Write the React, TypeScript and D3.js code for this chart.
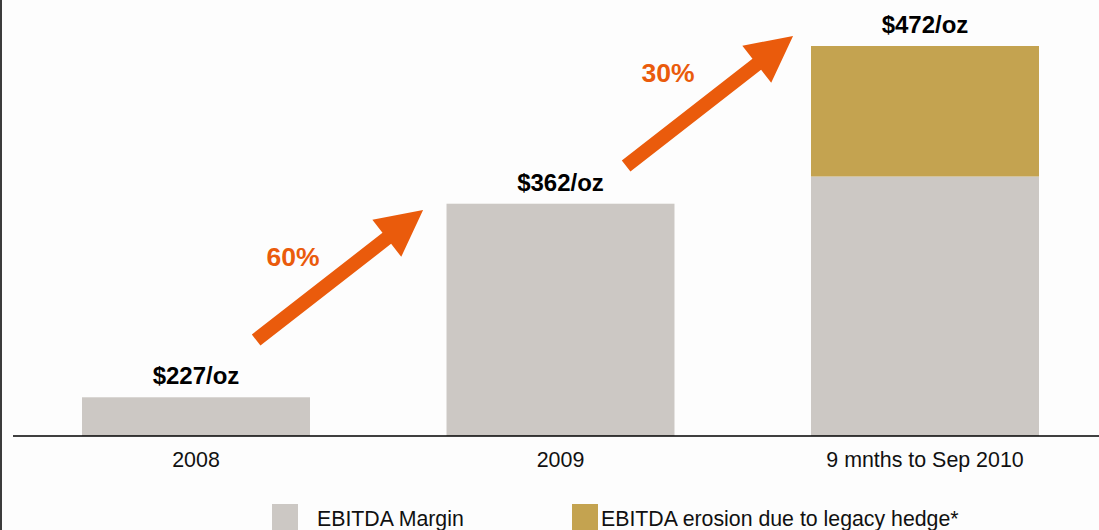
import React from 'react';
import * as d3 from 'd3';

const categories = ['2008', '2009', '9 mnths to Sep 2010'];
const marginValues = [227, 362, 381];
const erosionValues = [0, 0, 91];
const totalLabels = ['$227/oz', '$362/oz', '$472/oz'];

// growth arrows, positioned as [category index offset, $/oz]
const growthArrows = [
  { from: [0.165, 266.9], to: [0.623, 357.6], label: '60%', at: [0.266, 325.5] },
  { from: [1.18, 388.3], to: [1.638, 479], label: '30%', at: [1.295, 453.2] },
];

const legendItems = [
  { name: 'EBITDA Margin', color: '#ccc8c4' },
  { name: 'EBITDA erosion due to legacy hedge*', color: '#c4a350' },
];

const WIDTH = 1099;
const HEIGHT = 530;
const GREY = '#ccc8c4';
const GOLD = '#c4a350';
const ORANGE = '#ea5b0c';
const FONT = 'Arial, "Liberation Sans", Helvetica, sans-serif';

const App: React.FC = () => {
  const x = d3.scaleBand<string>()
    .domain(categories)
    .range([13, 1108])
    .paddingInner(0.3745)
    .paddingOuter(0.1893);

  const y = d3.scaleLinear().domain([200, 472]).range([436, 46]);

  const bw = x.bandwidth();
  const xAt = (i: number) => (x(categories[0]) as number) + bw / 2 + i * x.step();

  const arrowPath = (from: number[], to: number[]) => {
    const x0 = xAt(from[0]), y0 = y(from[1]);
    const x1 = xAt(to[0]), y1 = y(to[1]);
    const len = Math.hypot(x1 - x0, y1 - y0);
    const dx = (x1 - x0) / len, dy = (y1 - y0) / len;
    const nx = -dy, ny = dx;
    const shaft = 7, head = 23.5, headLen = 46;
    const bx = x1 - dx * headLen, by = y1 - dy * headLen;
    const pts: [number, number][] = [
      [x0 + nx * shaft, y0 + ny * shaft],
      [bx + nx * shaft, by + ny * shaft],
      [bx + nx * head, by + ny * head],
      [x1, y1],
      [bx - nx * head, by - ny * head],
      [bx - nx * shaft, by - ny * shaft],
      [x0 - nx * shaft, y0 - ny * shaft],
    ];
    return d3.line()(pts) + 'Z';
  };

  return (
    <svg width={WIDTH} height={HEIGHT} style={{ position: 'absolute', left: 0, top: 0, display: 'block' }}
      fontFamily={FONT}>
      <rect x={0} y={0} width={WIDTH} height={HEIGHT} fill="#fdfdfd" />
      <line x1={1} y1={0} x2={1} y2={HEIGHT} stroke="#3c3c3c" strokeWidth={2} />

      {categories.map((c, i) => (
        <g key={c}>
          <rect x={x(c)} y={y(marginValues[i])} width={bw} height={y(200) - y(marginValues[i])} fill={GREY} />
          {erosionValues[i] > 0 && (
            <rect x={x(c)} y={y(marginValues[i] + erosionValues[i])} width={bw}
              height={y(marginValues[i]) - y(marginValues[i] + erosionValues[i])} fill={GOLD} />
          )}
          <text x={(x(c) as number) + bw / 2} y={y(marginValues[i] + erosionValues[i]) - 13}
            textAnchor="middle" fontSize={24} fontWeight="bold" fill="#000">{totalLabels[i]}</text>
          <text x={(x(c) as number) + bw / 2} y={467} textAnchor="middle" fontSize={21.4} fill="#111">{c}</text>
        </g>
      ))}

      <line x1={13} y1={y(200)} x2={WIDTH} y2={y(200)} stroke="#000" strokeWidth={1.5} />

      {growthArrows.map((a) => (
        <g key={a.label}>
          <path d={arrowPath(a.from, a.to)} fill={ORANGE} />
          <text x={xAt(a.at[0])} y={y(a.at[1])} dy="0.36em" textAnchor="middle" fontSize={26.5}
            fontWeight="bold" fill={ORANGE}>{a.label}</text>
        </g>
      ))}

      <g>
        <rect x={272} y={504} width={26} height={30} fill={legendItems[0].color} />
        <text x={317} y={526} fontSize={21.3} fill="#111">{legendItems[0].name}</text>
        <rect x={572} y={504} width={26} height={30} fill={legendItems[1].color} />
        <text x={601} y={526} fontSize={21.3} fill="#111">{legendItems[1].name}</text>
      </g>
    </svg>
  );
};

export default App;
